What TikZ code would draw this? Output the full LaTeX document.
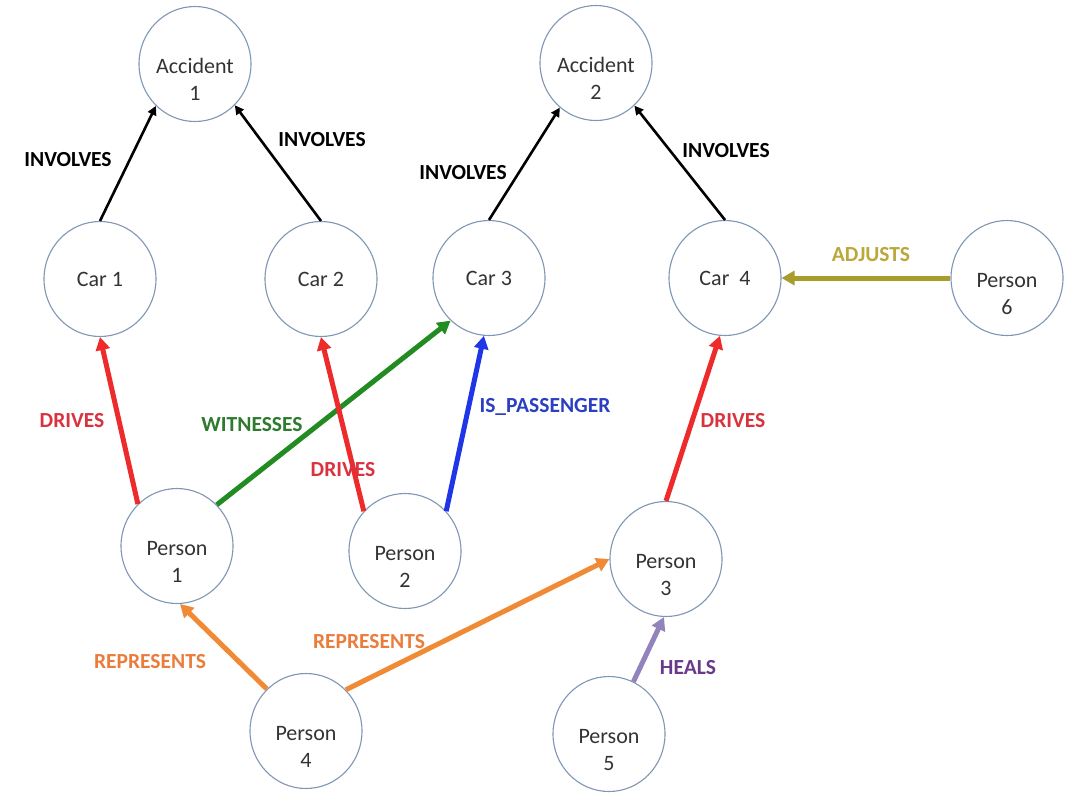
\documentclass[tikz,border=0pt]{standalone}
\usepackage{fontspec}
\setmainfont{Carlito}
\usetikzlibrary{arrows.meta,shapes.geometric}
\definecolor{nodeedge}{HTML}{7F97B5}
\definecolor{cred}{HTML}{EE2B2B}
\definecolor{cgreen}{HTML}{228B22}
\definecolor{cblue}{HTML}{1F35E8}
\definecolor{corange}{HTML}{F08A35}
\definecolor{cpurple}{HTML}{9283BD}
\definecolor{colive}{HTML}{A89D2C}
\definecolor{lred}{HTML}{D8333F}
\definecolor{lgreen}{HTML}{2E7A2E}
\definecolor{lblue}{HTML}{2B3FC2}
\definecolor{lorange}{HTML}{EB7D3C}
\definecolor{lpurple}{HTML}{6A3A8A}
\definecolor{lolive}{HTML}{BAA83A}
\definecolor{ntext}{HTML}{333333}
\newcommand{\downtext}{\rule{0pt}{46pt}}
\tikzset{
  ent/.style={ellipse, draw=nodeedge, line width=1.1pt, fill=white,
    minimum width=112pt, minimum height=115pt, inner sep=0pt,
    align=center, text=ntext, font=\fontsize{22}{27.5}\selectfont},
  blackedge/.style={line width=2.6pt, black, -{Triangle[length=9pt,width=9pt]}},
  coledge/.style={line width=5pt, -{Triangle[length=13pt,width=14pt]}},
  lab/.style={font=\bfseries\fontsize{21.5}{24}\selectfont, inner sep=0pt}
}
\begin{document}
\begin{tikzpicture}[x=1pt,y=-1pt]
\useasboundingbox (0,0) rectangle (1076,793);
\fill[white] (0,0) rectangle (1076,793);
% nodes
\node[ent] (acc1) at (195,64) {\downtext Accident\\1};
\node[ent] (acc2) at (596,63) {\downtext Accident\\2};
\node[ent] (car1) at (100,279) {Car 1};
\node[ent] (car2) at (321,279) {Car 2};
\node[ent] (car3) at (489,278) {Car 3};
\node[ent] (car4) at (725,278) {Car\ \ 4};
\node[ent] (p6) at (1007,278) {\downtext Person\\6};
\node[ent] (p1) at (177,546) {\downtext Person\\1};
\node[ent] (p2) at (405,551) {\downtext Person\\2};
\node[ent] (p3) at (666,559) {\downtext Person\\3};
\node[ent] (p4) at (306,731) {\downtext Person\\4};
\node[ent] (p5) at (609,734) {\downtext Person\\5};
% black edges
\draw[blackedge] (car1.north) -- (acc1.-133);
\draw[blackedge] (car2.north) -- (acc1.-46);
\draw[blackedge] (car3.north) -- (acc2.-129);
\draw[blackedge] (car4.north) -- (acc2.-48);
% coloured edges
\draw[coledge, colive] (p6.west) -- (car4.east);
\draw[coledge, cred] (p1.133) -- (car1.south);
\draw[coledge, cgreen] (p1.46) -- (car3.-132);
\draw[coledge, cred] (p2.136) -- (car2.south);
\draw[coledge, cblue] (p2.44) -- (car3.-95);
\draw[coledge, cred] (p3.north) -- (car4.-95);
\draw[coledge, corange] (p4.133) -- (p1.-87);
\draw[coledge, corange] (p4.46) -- (p3.180);
\draw[coledge, cpurple] (p5.65) -- (p3.-92);
% labels
\node[lab] (l1) at (68,160) {INVOLVES};
\node[lab] (l2) at (322,140) {INVOLVES};
\node[lab] (l3) at (463,173) {INVOLVES};
\node[lab] (l4) at (726,151) {INVOLVES};
\node[lab, text=lolive] (l5) at (871,255) {ADJUSTS};
\node[lab, text=lred] (l6) at (72,421) {DRIVES};
\node[lab, text=lgreen] (l7) at (252,425) {WITNESSES};
\node[lab, text=lred] (l8) at (343,470) {DRIVES};
\node[lab, text=lblue] (l9) at (545,407) {IS\_PASSENGER};
\node[lab, text=lred] (l10) at (733,421) {DRIVES};
\node[lab, text=lorange] (l11) at (150,662) {REPRESENTS};
\node[lab, text=lorange] (l12) at (369,642) {REPRESENTS};
\node[lab, text=lpurple] (l13) at (688,668) {HEALS};
\end{tikzpicture}
\end{document}
